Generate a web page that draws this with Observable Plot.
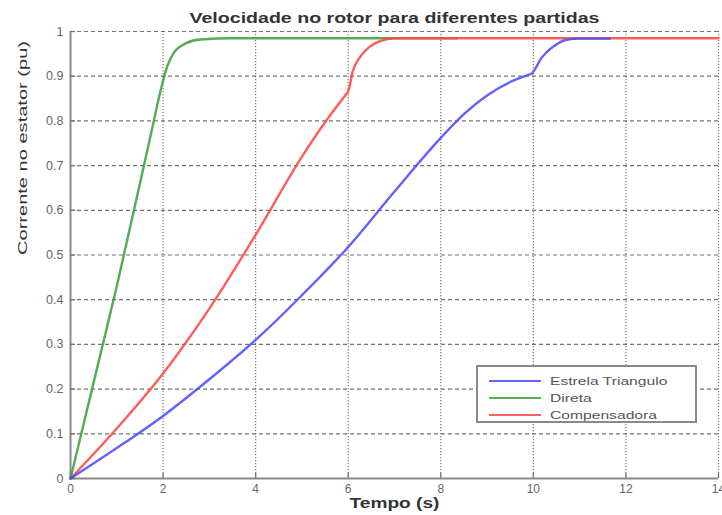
<!DOCTYPE html>
<html>
<head>
<meta charset="utf-8">
<script src="https://cdn.jsdelivr.net/npm/d3@7"></script>
<script src="https://cdn.jsdelivr.net/npm/@observablehq/plot@0.6"></script>
<style>
  html, body { margin: 0; padding: 0; background: #fff; }
  #wrap { position: relative; width: 722px; height: 515px; font-family: "Liberation Sans", Arial, sans-serif; }
  #legend { position: absolute; left: 476px; top: 365px; width: 221px; height: 58px; border: 2px solid #8a8a8a; background: #fff; box-sizing: border-box; padding: 5px 0 0 11px; }
  .row { display: flex; align-items: center; height: 17px; font-size: 11.5px; color: #555; white-space: nowrap; }
  .sw { width: 52px; height: 0; border-top: 2.4px solid; margin-right: 9px; opacity: 0.85; flex: none; }
  .lab { display: inline-block; transform: scaleX(1.36); transform-origin: left center; }
</style>
</head>
<body>
<div id="wrap"><div id="chart"></div><div id="legend"></div></div>
<script>
const title = "Velocidade no rotor para diferentes partidas";
const xLabel = "Tempo (s)";
const yLabel = "Corrente no estator (pu)";
const xTicks = [0, 2, 4, 6, 8, 10, 12, 14];
const yTicks = [0, 0.1, 0.2, 0.3, 0.4, 0.5, 0.6, 0.7, 0.8, 0.9, 1];
const seriesNames = ["Estrela Triangulo", "Direta", "Compensadora"];
const seriesColors = ["#4646ff", "#3aa03a", "#ff4646"];

const estrelaT = [0, 1, 2, 3, 4, 5, 6, 7, 8, 8.5, 9, 9.5, 9.92, 9.97, 10.05, 10.15, 10.3, 10.44, 10.7, 11.0, 11.65];
const estrelaY = [0, 0.068, 0.14, 0.222, 0.31, 0.41, 0.518, 0.642, 0.762, 0.815, 0.857, 0.887, 0.904, 0.906, 0.918, 0.937, 0.955, 0.967, 0.981, 0.984, 0.984];

const diretaT = [0, 0.5, 1, 1.5, 1.8, 1.97, 2.0, 2.1, 2.23, 2.5, 2.8, 3.5, 8.35];
const diretaY = [0, 0.215, 0.43, 0.66, 0.8, 0.878, 0.89, 0.925, 0.952, 0.974, 0.982, 0.985, 0.985];

const compT = [0, 1, 2, 3, 4, 5, 5.5, 5.95, 6.0, 6.1, 6.25, 6.4, 6.7, 7.0, 14];
const compY = [0, 0.112, 0.235, 0.38, 0.545, 0.72, 0.797, 0.859, 0.866, 0.912, 0.942, 0.96, 0.979, 0.985, 0.985];

const toRows = (ts, ys, name) => ts.map((t, i) => ({t, v: ys[i], name}));
const dEst = toRows(estrelaT, estrelaY, seriesNames[0]);
const dDir = toRows(diretaT, diretaY, seriesNames[1]);
const dComp = toRows(compT, compY, seriesNames[2]);

const font = "'Liberation Sans', Arial, sans-serif";
const chart = Plot.plot({
  width: 722,
  height: 515,
  marginTop: 31,
  marginLeft: 70,
  marginRight: 4,
  marginBottom: 37,
  style: { fontFamily: font, background: "#fff", overflow: "visible" },
  x: { domain: [0, 14] },
  y: { domain: [0, 1] },
  marks: [
    Plot.gridY(yTicks, { stroke: "#444", strokeOpacity: 0.75, strokeDasharray: "4,3", strokeWidth: 1.2 }),
    Plot.gridX(xTicks.slice(1), { stroke: "#444", strokeOpacity: 0.7, strokeDasharray: "1.3,1.7", strokeWidth: 1.2 }),
    Plot.ruleX([0], { stroke: "#8a8a8a", strokeWidth: 2 }),
    Plot.ruleY([0], { stroke: "#8a8a8a", strokeWidth: 2 }),
    Plot.ruleX(xTicks, { x: d => d, y1: 0, y2: 0.012, stroke: "#777", strokeWidth: 1.3 }),
    Plot.ruleY(yTicks, { y: d => d, x1: 0, x2: 0.11, stroke: "#777", strokeWidth: 1.3 }),
    Plot.axisX(xTicks, { tickSize: 0, tickPadding: 6, fontSize: 12, color: "#666", label: null }),
    Plot.axisY(yTicks, { tickSize: 0, tickPadding: 7, fontSize: 12.5, color: "#666", label: null, tickFormat: d => String(d) }),
    Plot.line(dDir, { x: "t", y: "v", stroke: seriesColors[1], strokeWidth: 2.4, strokeOpacity: 0.88, curve: "monotone-x" }),
    Plot.line(dComp, { x: "t", y: "v", stroke: seriesColors[2], strokeWidth: 2.4, strokeOpacity: 0.88, curve: "monotone-x" }),
    Plot.line(dEst, { x: "t", y: "v", stroke: seriesColors[0], strokeWidth: 2.4, strokeOpacity: 0.85, curve: "monotone-x" }),
    Plot.text([title], { frameAnchor: "top", dy: -19, fontSize: 15, fontWeight: "bold", fill: "#333" }),
    Plot.text([xLabel], { frameAnchor: "bottom", dy: 29, fontSize: 14, fontWeight: "bold", fill: "#333" }),
    Plot.text([yLabel], { frameAnchor: "left", dx: -48, rotate: -90, fontSize: 13, fill: "#333" })
  ]
});
document.getElementById("chart").appendChild(chart);

// stretch texts horizontally like the (resampled) reference image
const stretch = { [title]: 410, [xLabel]: 90, [yLabel]: 214 };
d3.select(chart).selectAll("text").each(function () {
  const t = this.textContent;
  if (stretch[t]) {
    this.setAttribute("textLength", stretch[t]);
    this.setAttribute("lengthAdjust", "spacingAndGlyphs");
  }
});

const legend = document.getElementById("legend");
seriesNames.forEach((n, i) => {
  const row = document.createElement("div");
  row.className = "row";
  const sw = document.createElement("span");
  sw.className = "sw";
  sw.style.borderTopColor = seriesColors[i];
  const lab = document.createElement("span");
  lab.className = "lab";
  lab.textContent = n;
  row.appendChild(sw);
  row.appendChild(lab);
  legend.appendChild(row);
});
</script>
</body>
</html>
